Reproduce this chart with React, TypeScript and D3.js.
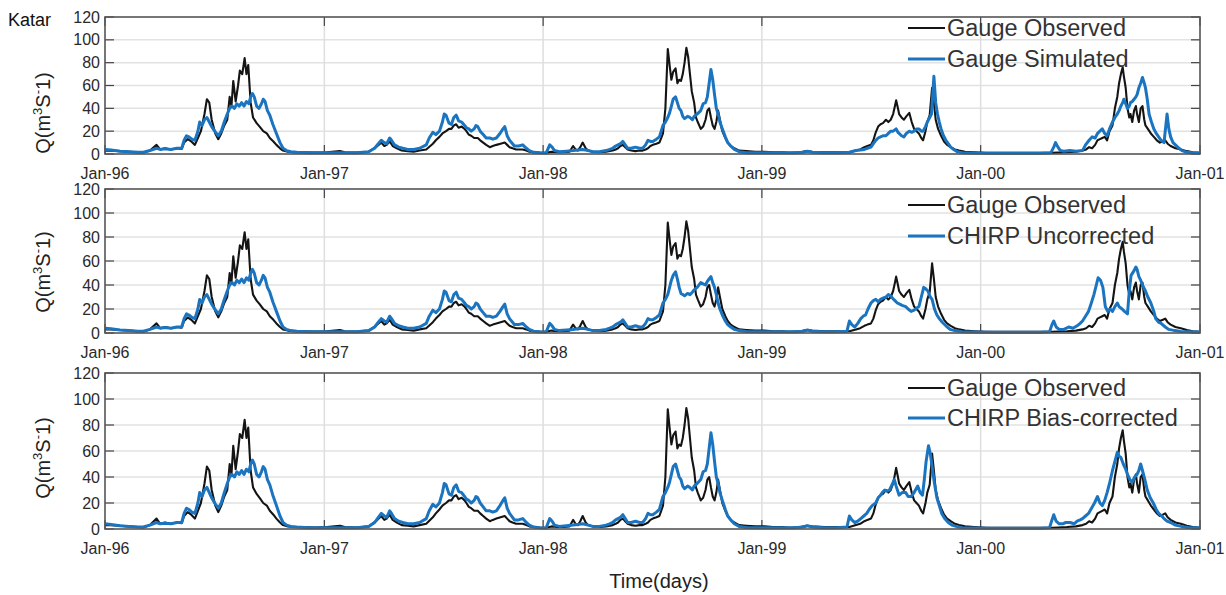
import React from 'react';
import * as d3 from 'd3';

// day offsets from 1 Jan 1996, discharge in m3/s
const observed: [number, number][] = [
  [0, 3], [10, 3], [25, 2.5], [40, 2], [55, 1.5], [64, 1.2], [75, 3], [86, 8], [92, 4], [100, 5], [110, 4], [120, 5], [128, 4.5],
  [132, 10], [138, 13], [144, 11], [150, 8], [155, 14], [160, 20], [166, 35], [170, 48], [174, 45], [178, 30], [184, 18], [189, 13],
  [194, 18], [199, 25], [204, 30], [208, 50], [211, 42], [214, 64], [218, 46], [222, 60], [225, 73], [229, 70], [233, 84], [236, 70],
  [239, 78], [243, 45], [247, 32], [253, 27], [258, 24], [264, 20], [270, 18], [275, 14], [281, 11], [286, 8], [292, 5], [297, 3],
  [305, 2], [315, 1.5], [330, 1.5], [350, 1.2], [370, 1.5], [392, 2.5], [400, 1.5], [420, 1.2], [440, 2], [452, 6], [461, 10],
  [466, 7], [470, 8], [475, 11], [480, 7], [487, 5], [495, 3], [505, 2.5], [515, 2], [525, 3], [536, 4], [547, 9], [552, 12],
  [558, 15], [563, 18], [569, 20], [574, 22], [578, 22], [582, 25], [586, 26], [590, 23], [595, 24], [600, 22], [603, 20], [607, 17],
  [611, 16], [616, 14], [622, 14], [626, 12], [631, 10], [636, 8], [642, 6], [647, 7], [653, 8], [660, 9], [667, 10], [671, 8],
  [675, 6], [680, 5], [686, 4], [692, 4], [697, 4], [703, 3], [708, 2], [715, 1.5], [725, 1.2], [736, 1], [745, 2], [755, 1.5],
  [765, 1.5], [775, 2], [781, 7], [785, 4], [789, 3], [793, 6], [797, 10], [802, 5], [806, 3], [814, 2], [825, 1.5], [836, 2],
  [847, 3], [852, 4], [856, 5], [860, 7], [864, 8], [868, 6], [872, 4], [878, 3], [885, 2.5], [892, 3], [897, 3], [902, 4],
  [906, 5], [910, 7], [914, 8], [920, 9], [925, 10], [928, 14], [931, 18], [935, 40], [939, 92], [942, 78], [945, 65], [948, 72],
  [952, 75], [955, 62], [958, 65], [961, 64], [964, 70], [967, 80], [970, 93], [973, 85], [976, 70], [979, 55], [983, 45], [986, 32],
  [989, 28], [994, 22], [998, 24], [1002, 30], [1005, 38], [1008, 40], [1011, 32], [1014, 25], [1017, 22], [1020, 28], [1023, 38],
  [1026, 30], [1030, 20], [1035, 14], [1039, 10], [1044, 7], [1050, 5], [1058, 3], [1070, 2.5], [1085, 2], [1100, 2], [1115, 1.5],
  [1130, 1.5], [1142, 1], [1160, 1.5], [1170, 2.5], [1180, 2], [1200, 1.5], [1220, 1.5], [1242, 1.5], [1253, 3], [1260, 4],
  [1267, 6], [1272, 7], [1278, 8], [1282, 12], [1286, 19], [1290, 24], [1294, 26], [1298, 27], [1303, 30], [1307, 28], [1311, 30],
  [1315, 35], [1318, 42], [1320, 47], [1323, 40], [1325, 35], [1329, 32], [1333, 30], [1337, 33], [1342, 36], [1346, 28], [1350, 22],
  [1354, 20], [1358, 18], [1362, 14], [1365, 12], [1369, 20], [1372, 28], [1376, 34], [1380, 58], [1383, 45], [1386, 30], [1390, 22],
  [1395, 16], [1400, 11], [1405, 8], [1411, 6], [1418, 4], [1425, 3], [1435, 2], [1450, 1.5], [1470, 1], [1500, 1], [1530, 1],
  [1560, 1], [1580, 1], [1590, 1.2], [1605, 1.5], [1620, 2], [1631, 3], [1637, 4], [1642, 6], [1647, 5], [1652, 8], [1656, 12],
  [1660, 13], [1664, 14], [1668, 15], [1672, 12], [1676, 20], [1681, 25], [1685, 40], [1689, 50], [1692, 62], [1695, 70], [1698, 76],
  [1700, 68], [1703, 58], [1706, 40], [1709, 32], [1711, 35], [1714, 28], [1717, 38], [1720, 42], [1722, 35], [1725, 28], [1728, 40],
  [1731, 42], [1734, 30], [1736, 25], [1740, 22], [1745, 18], [1750, 15], [1755, 12], [1760, 10], [1765, 11], [1769, 12], [1773, 9],
  [1778, 7], [1786, 5], [1795, 4], [1805, 2.5], [1815, 1.5], [1826, 1],
];

// the three model runs are indistinguishable until the 1998 monsoon
const modelEarly: [number, number][] = [
  [0, 4], [10, 3.5], [25, 2.5], [40, 2], [55, 1.5], [64, 1.5], [75, 3], [86, 5], [92, 4], [100, 4.5], [110, 4], [120, 5], [128, 5],
  [132, 12], [136, 16], [140, 15], [145, 13], [150, 12], [155, 20], [158, 28], [162, 25], [166, 30], [170, 32], [174, 28], [178, 24],
  [183, 20], [189, 16], [194, 20], [199, 28], [204, 35], [208, 40], [212, 42], [216, 40], [220, 44], [224, 42], [228, 45], [232, 42],
  [236, 46], [240, 44], [243, 50], [246, 53], [249, 50], [253, 42], [257, 40], [261, 44], [264, 48], [267, 46], [271, 38], [275, 34],
  [280, 26], [286, 18], [292, 10], [297, 5], [303, 3], [310, 2], [320, 1.5], [340, 1], [360, 1], [380, 1], [400, 1], [420, 1],
  [440, 2], [450, 5], [456, 9], [461, 12], [466, 10], [470, 9], [475, 14], [478, 12], [483, 8], [490, 6], [497, 5], [505, 4],
  [515, 4], [525, 5], [536, 8], [541, 14], [547, 19], [552, 17], [558, 20], [563, 28], [566, 35], [569, 34], [574, 27], [578, 26],
  [582, 32], [586, 34], [590, 29], [595, 28], [600, 25], [603, 23], [607, 22], [611, 20], [616, 22], [619, 25], [622, 24], [626, 20],
  [631, 17], [636, 14], [642, 14], [647, 13], [653, 14], [659, 18], [664, 22], [667, 24], [671, 16], [675, 12], [680, 9], [683, 7],
  [690, 7], [697, 8], [703, 5], [708, 3], [715, 1.5], [725, 1], [736, 0.8], [742, 8], [746, 6], [750, 3], [758, 2], [770, 2.5],
  [781, 3], [789, 3.5], [797, 4], [806, 3], [814, 2], [825, 2], [836, 3], [842, 4], [847, 5], [852, 7], [856, 8], [860, 9],
  [864, 11], [868, 8], [872, 5], [878, 5], [885, 6], [892, 5], [897, 5], [902, 8], [906, 12], [910, 11], [914, 11], [920, 13],
  [925, 15],
];

const simulated1998: [number, number][] = [
  [928, 20], [931, 25], [935, 28], [939, 32], [942, 36], [945, 42], [948, 48], [952, 50], [955, 45], [958, 40], [961, 38],
  [964, 33], [967, 31], [972, 33], [976, 32], [980, 30], [983, 33], [988, 35], [994, 38], [998, 44], [1002, 45], [1005, 50],
  [1008, 62], [1011, 74], [1014, 65], [1017, 52], [1020, 40], [1023, 35], [1026, 28], [1030, 22], [1035, 15], [1039, 10], [1044, 7],
  [1050, 4], [1058, 2], [1070, 1.2], [1090, 1], [1110, 1], [1130, 1], [1150, 1], [1165, 1.5], [1172, 2.5], [1180, 1.5], [1200, 1],
  [1220, 1],
];

const simulatedLate: [number, number][] = [
  [1242, 1.5], [1253, 3], [1260, 3.5], [1267, 4], [1272, 5], [1278, 6], [1282, 9], [1286, 12], [1290, 14], [1294, 15], [1298, 16],
  [1303, 16], [1307, 18], [1311, 20], [1315, 20], [1320, 22], [1323, 19], [1325, 18], [1329, 16], [1333, 15], [1337, 18], [1342, 20],
  [1346, 19], [1350, 20], [1354, 22], [1358, 22], [1362, 20], [1365, 20], [1369, 24], [1372, 28], [1376, 32], [1379, 35], [1383, 68],
  [1386, 45], [1389, 35], [1392, 28], [1395, 22], [1399, 16], [1403, 12], [1407, 9], [1411, 6], [1416, 4], [1422, 2], [1430, 1.2],
  [1450, 0.8], [1480, 0.6], [1520, 0.6], [1560, 0.6], [1578, 1], [1583, 6], [1586, 10], [1590, 6], [1594, 3], [1600, 2.5], [1610, 3],
  [1620, 2.5], [1631, 3], [1636, 8], [1642, 12], [1647, 15], [1652, 14], [1656, 18], [1660, 20], [1664, 22], [1668, 18], [1672, 16],
  [1676, 22], [1681, 28], [1685, 32], [1689, 35], [1692, 38], [1695, 42], [1698, 45], [1700, 48], [1703, 44], [1706, 40], [1709, 42],
  [1711, 45], [1714, 46], [1717, 48], [1720, 50], [1722, 52], [1725, 58], [1728, 62], [1731, 67], [1734, 62], [1736, 58], [1739, 48],
  [1742, 35], [1746, 28], [1750, 22], [1754, 18], [1758, 15], [1762, 12], [1767, 10], [1769, 20], [1772, 35], [1775, 22], [1778, 15],
  [1782, 10], [1786, 8], [1792, 5], [1797, 3], [1805, 1.5], [1815, 1], [1826, 0.8],
];

const uncorrected1998: [number, number][] = [
  [928, 20], [931, 25], [935, 28], [939, 32], [942, 38], [945, 44], [948, 48], [952, 51], [955, 45], [958, 38], [961, 33],
  [964, 32], [967, 31], [972, 33], [976, 32], [980, 34], [983, 36], [988, 38], [994, 42], [998, 41], [1002, 40], [1005, 43],
  [1008, 45], [1011, 47], [1014, 42], [1017, 38], [1020, 32], [1023, 25], [1026, 20], [1030, 15], [1035, 10], [1039, 7], [1044, 5],
  [1050, 3], [1058, 2], [1070, 1.2], [1090, 1], [1110, 1], [1130, 1], [1150, 1], [1165, 1.5], [1172, 2.5], [1180, 1.5], [1200, 1],
  [1220, 1],
];

const uncorrectedLate: [number, number][] = [
  [1238, 1.5], [1242, 10], [1246, 7], [1251, 5], [1256, 8], [1261, 12], [1265, 14], [1269, 15], [1273, 20], [1278, 25], [1282, 27],
  [1286, 28], [1290, 26], [1294, 28], [1298, 29], [1303, 30], [1307, 32], [1311, 31], [1314, 29], [1318, 27], [1322, 25], [1326, 24],
  [1330, 23], [1336, 22], [1340, 20], [1345, 18], [1350, 19], [1355, 21], [1358, 22], [1362, 30], [1366, 38], [1369, 37], [1373, 35],
  [1377, 30], [1380, 28], [1384, 20], [1388, 15], [1392, 12], [1397, 9], [1403, 6], [1410, 3], [1418, 2], [1430, 1], [1450, 0.8],
  [1480, 0.6], [1520, 0.6], [1560, 0.6], [1576, 1], [1580, 7], [1583, 10], [1587, 5], [1592, 3], [1600, 3], [1608, 5], [1615, 4],
  [1622, 6], [1627, 8], [1631, 10], [1636, 14], [1641, 18], [1645, 24], [1650, 32], [1654, 40], [1657, 46], [1661, 44], [1665, 38],
  [1669, 22], [1673, 18], [1677, 20], [1681, 18], [1685, 22], [1689, 25], [1692, 22], [1697, 20], [1701, 18], [1706, 16], [1709, 35],
  [1712, 48], [1717, 52], [1720, 55], [1722, 53], [1725, 47], [1728, 44], [1731, 40], [1736, 35], [1740, 30], [1745, 25], [1750, 18],
  [1753, 12], [1758, 9], [1762, 8], [1769, 5], [1775, 3], [1785, 2], [1795, 1.2], [1810, 1], [1826, 0.8],
];

const biasCorrectedLate: [number, number][] = [
  [1238, 1.5], [1242, 10], [1246, 7], [1251, 5], [1256, 6], [1261, 8], [1266, 10], [1271, 12], [1275, 15], [1280, 18], [1286, 20],
  [1290, 24], [1294, 26], [1297, 28], [1301, 30], [1305, 29], [1309, 30], [1313, 34], [1317, 38], [1320, 33], [1325, 26], [1330, 28],
  [1336, 28], [1340, 25], [1345, 25], [1350, 28], [1356, 33], [1360, 28], [1364, 26], [1367, 38], [1370, 52], [1374, 64], [1377, 58],
  [1380, 48], [1384, 35], [1388, 24], [1392, 18], [1396, 12], [1401, 8], [1407, 5], [1413, 3], [1420, 2], [1430, 1], [1450, 0.8],
  [1480, 0.6], [1520, 0.6], [1560, 0.6], [1576, 1], [1580, 7], [1583, 11], [1587, 6], [1592, 4], [1598, 4], [1603, 5], [1610, 5],
  [1617, 4], [1622, 6], [1627, 7], [1631, 8], [1636, 10], [1641, 12], [1646, 16], [1651, 20], [1656, 25], [1660, 20], [1664, 18],
  [1668, 22], [1672, 28], [1676, 35], [1681, 45], [1685, 52], [1689, 59], [1692, 56], [1695, 55], [1699, 50], [1703, 46], [1706, 42],
  [1710, 38], [1714, 36], [1718, 40], [1722, 42], [1725, 45], [1728, 50], [1731, 45], [1735, 38], [1739, 30], [1744, 24], [1749, 20],
  [1754, 15], [1758, 12], [1763, 10], [1767, 8], [1772, 6], [1778, 5], [1786, 3], [1796, 2], [1808, 1.2], [1826, 1],
];

const simulated = [...modelEarly, ...simulated1998, ...simulatedLate];
const uncorrected = [...modelEarly, ...uncorrected1998, ...uncorrectedLate];
const biasCorrected = [...modelEarly, ...simulated1998, ...biasCorrectedLate];

const yTicks = [0, 20, 40, 60, 80, 100, 120];
const seriesNames = ['Gauge Simulated', 'CHIRP Uncorrected', 'CHIRP Bias-corrected'];

const START = new Date(1996, 0, 1);
const END = new Date(2001, 0, 1);
const FONT = 'Liberation Sans, Arial, sans-serif';
const BLUE = '#1a74c0';
const BLACK = '#141414';

const x = d3.scaleTime().domain([START, END]).range([105, 1200]);
const years = d3.timeYear.range(START, d3.timeYear.offset(END, 1));
const fmt = d3.timeFormat('%b-%y');

const panels = [
  { top: 17, bottom: 154, blue: simulated, label: seriesNames[0], leg: [11, 42], qy: 113 },
  { top: 189, bottom: 333, blue: uncorrected, label: seriesNames[1], leg: [16, 47], qy: 272 },
  { top: 373, bottom: 529, blue: biasCorrected, label: seriesNames[2], leg: [15, 45], qy: 458 },
];

function Panel({ p }: { p: typeof panels[number] }) {
  const y = d3.scaleLinear().domain([0, 120]).range([p.bottom, p.top]);
  const line = d3.line<[number, number]>()
    .x(d => x(d3.timeDay.offset(START, d[0])))
    .y(d => y(d[1]));
  const x0 = 105, x1 = 1200;
  return (
    <g>
      {yTicks.slice(1, -1).map(t => (
        <line key={'h' + t} x1={x0} x2={x1} y1={y(t)} y2={y(t)} stroke="#e2e2e2" strokeWidth={1.5} />
      ))}
      {years.slice(1, -1).map(t => (
        <line key={'v' + +t} x1={x(t)} x2={x(t)} y1={p.top} y2={p.bottom} stroke="#dedede" strokeWidth={1.5} />
      ))}
      {yTicks.map(t => (
        <g key={'t' + t}>
          <line x1={x0} x2={x0 + 9} y1={y(t)} y2={y(t)} stroke="#444" strokeWidth={1.2} />
          <line x1={x1 - 9} x2={x1} y1={y(t)} y2={y(t)} stroke="#444" strokeWidth={1.2} />
          <text x={100} y={y(t)} dy="0.35em" textAnchor="end" fontSize={16} fill="#2a2a2a">{t}</text>
        </g>
      ))}
      {years.map(t => (
        <g key={'x' + +t}>
          <line x1={x(t)} x2={x(t)} y1={p.bottom} y2={p.bottom - 9} stroke="#444" strokeWidth={1.2} />
          <line x1={x(t)} x2={x(t)} y1={p.top} y2={p.top + 9} stroke="#444" strokeWidth={1.2} />
          <text x={x(t)} y={p.bottom + 25} textAnchor="middle" fontSize={16} fill="#2a2a2a">{fmt(t)}</text>
        </g>
      ))}
      <path d={line(observed) ?? ''} fill="none" stroke={BLACK} strokeWidth={2.1} strokeLinejoin="round" />
      <path d={line(p.blue) ?? ''} fill="none" stroke={BLUE} strokeWidth={3} strokeLinejoin="round" />
      <rect x={x0} y={p.top} width={x1 - x0} height={p.bottom - p.top} fill="none" stroke="#555" strokeWidth={1.6} />

      <line x1={908} x2={945} y1={p.top + p.leg[0]} y2={p.top + p.leg[0]} stroke={BLACK} strokeWidth={2.2} />
      <text x={947} y={p.top + p.leg[0]} dy="0.35em" fontSize={23.5} fill="#333">Gauge Observed</text>
      <line x1={908} x2={945} y1={p.top + p.leg[1]} y2={p.top + p.leg[1]} stroke={BLUE} strokeWidth={3} />
      <text x={947} y={p.top + p.leg[1]} dy="0.35em" fontSize={23.5} fill="#333">{p.label}</text>

      <text transform={`translate(50,${p.qy}) rotate(-90)`} textAnchor="middle" fontSize={20} fill="#222">
        Q(m<tspan dy={-8} fontSize={13}>3</tspan><tspan dy={8}>S</tspan><tspan dy={-8} fontSize={13}>-</tspan><tspan dy={8}>1)</tspan>
      </text>
    </g>
  );
}

export default function App() {
  return (
    <svg width={1226} height={595} style={{ position: 'absolute', left: 0, top: 0, background: '#fff' }} fontFamily={FONT}>
      <text x={8} y={26} fontSize={18} fill="#111">Katar</text>
      {panels.map((p, i) => <Panel key={i} p={p} />)}
      <text x={659} y={588} textAnchor="middle" fontSize={20} fill="#222">Time(days)</text>
    </svg>
  );
}
